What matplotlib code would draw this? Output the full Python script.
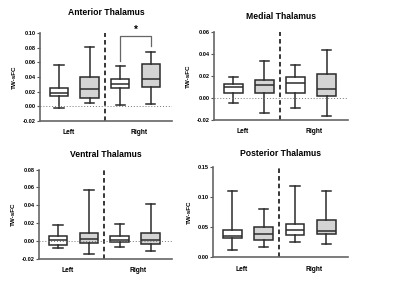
import numpy as np
import matplotlib
matplotlib.use("Agg")
import matplotlib.pyplot as plt

plt.rcParams['font.family'] = ['Liberation Sans', 'DejaVu Sans']
plt.rcParams['font.weight'] = 'bold'

# Box summaries: (min, q1, median, q3, max) for Left-1, Left-2, Right-1, Right-2
titles = ["Anterior Thalamus", "Medial Thalamus", "Ventral Thalamus", "Posterior Thalamus"]
groups = ["Left", "Right"]

anterior = [(-0.002, 0.014, 0.018, 0.025, 0.057),
            (0.005, 0.011, 0.024, 0.040, 0.081),
            (0.002, 0.025, 0.030, 0.038, 0.055),
            (0.003, 0.026, 0.037, 0.058, 0.074)]
medial = [(-0.0043, 0.0042, 0.0099, 0.0129, 0.0192),
          (-0.0134, 0.0042, 0.0117, 0.0162, 0.0335),
          (-0.0089, 0.0045, 0.0138, 0.0187, 0.0300),
          (-0.0161, 0.0020, 0.0078, 0.0220, 0.0434)]
ventral = [(-0.0078, -0.0048, 0.0005, 0.0050, 0.0178),
           (-0.0145, -0.0025, 0.0016, 0.0084, 0.0575),
           (-0.0074, -0.0014, 0.0013, 0.0058, 0.0193),
           (-0.0119, -0.0040, 0.0009, 0.0091, 0.0414)]
posterior = [(0.0117, 0.0317, 0.0361, 0.0461, 0.111),
             (0.0167, 0.0289, 0.0389, 0.0506, 0.0811),
             (0.025, 0.0367, 0.045, 0.055, 0.119),
             (0.0217, 0.0383, 0.0433, 0.0617, 0.1106)]
panels = [anterior, medial, ventral, posterior]

yticks = [[-0.02, 0.00, 0.02, 0.04, 0.06, 0.08, 0.10],
          [-0.02, 0.00, 0.02, 0.04, 0.06],
          [-0.02, 0.00, 0.02, 0.04, 0.06, 0.08],
          [0.00, 0.05, 0.10, 0.15]]

# significance bracket on Anterior, Right pair: left foot, top, right foot
bracket = (0.062, 0.0963, 0.0827)

# axes rectangles in figure fraction
rects = [[0.100, 0.578, 0.330, 0.307],
         [0.535, 0.582, 0.335, 0.308],
         [0.097, 0.099, 0.333, 0.310],
         [0.532, 0.103, 0.338, 0.314]]
title_off = [15.0, 10.8, 10.8, 10.3]   # points above axes top

fills = ["white", "#d4d4d4", "white", "#d4d4d4"]
pos = [1, 2, 3, 4]
edge = "#2b2b2b"

fig = plt.figure(figsize=(4.0, 2.87), dpi=100)

for k in range(4):
    ax = fig.add_axes(rects[k])
    stats = []
    for s in panels[k]:
        stats.append(dict(whislo=s[0], q1=s[1], med=s[2], q3=s[3], whishi=s[4], fliers=[]))
    bp = ax.bxp(stats, positions=pos, widths=0.6, patch_artist=True, showfliers=False,
                boxprops=dict(edgecolor=edge, linewidth=1.1),
                medianprops=dict(color=edge, linewidth=1.1),
                whiskerprops=dict(color=edge, linewidth=1.1),
                capprops=dict(color=edge, linewidth=1.1))
    for patch, fc in zip(bp['boxes'], fills):
        patch.set_facecolor(fc)

    ax.axvline(2.5, color="black", linewidth=1.1, linestyle=(0, (3, 2)))
    if yticks[k][0] < 0:
        ax.axhline(0, color="#777777", linewidth=0.7, linestyle=(0, (1, 2)))

    ax.set_xlim(0.38, 4.69)
    ax.set_ylim(yticks[k][0], yticks[k][-1])
    ax.set_yticks(yticks[k])
    ax.set_yticklabels(["%.2f" % t for t in yticks[k]])
    ax.set_xticks([1.3, 3.6])
    ax.set_xticklabels(groups)
    ax.tick_params(axis='x', length=0, pad=6, labelsize=4.8)
    ax.tick_params(axis='y', length=2.2, width=0.8, pad=1, labelsize=4.1, color="#555555")
    ax.set_ylabel("TW-sFC", fontsize=4.5, labelpad=4.2, fontweight='bold')
    for side in ["top", "right"]:
        ax.spines[side].set_visible(False)
    for side in ["left", "bottom"]:
        ax.spines[side].set_color("#666666")
        ax.spines[side].set_linewidth(1.2)
    ax.annotate(titles[k], xy=(0.5, 1.0), xycoords="axes fraction",
                xytext=(0, title_off[k]), textcoords="offset points",
                ha="center", va="center", fontsize=6.2, fontweight='bold')

    if k == 0:
        ax.plot([3, 3, 4, 4], [bracket[0], bracket[1], bracket[1], bracket[2]],
                color="#666666", linewidth=0.9, clip_on=False)
        ax.text(3.5, bracket[1] + 0.001, "*", ha="center", va="bottom", fontsize=7,
                fontweight='bold', clip_on=False)

fig.savefig("out.png", dpi=100)
